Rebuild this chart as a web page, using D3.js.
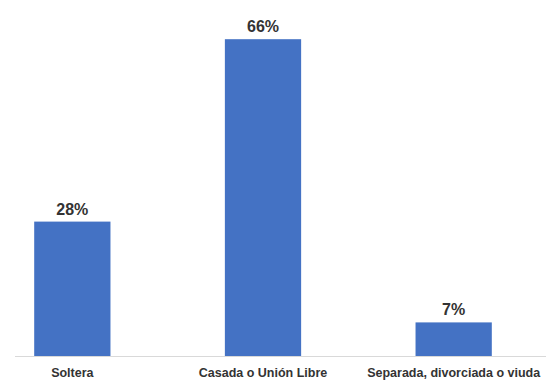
<!DOCTYPE html>
<html><head><meta charset="utf-8">
<script src="https://cdn.jsdelivr.net/npm/d3@7"></script>
<style>body{margin:0;background:#fff;}svg{display:block;}</style>
</head><body>
<script>
const categories = ["Soltera", "Casada o Unión Libre", "Separada, divorciada o viuda"];
const values = [28, 66, 7];
const valueLabels = ["28%", "66%", "7%"];

const W = 546, H = 380;
const svg = d3.select("body").append("svg").attr("width", W).attr("height", H);

const x = d3.scaleBand().domain(categories).range([-23, 549]).paddingInner(0.6).paddingOuter(0.3);
const y = d3.scaleLinear().domain([0, 70]).range([356, 20]);

svg.append("line").attr("x1", 15).attr("x2", W).attr("y1", y(0) + 0.5).attr("y2", y(0) + 0.5)
  .attr("stroke", "#d9d9d9").attr("stroke-width", 1);

svg.selectAll("rect.bar").data(values).join("rect").attr("class", "bar")
  .attr("x", (d, i) => x(categories[i]))
  .attr("width", x.bandwidth())
  .attr("y", d => y(d))
  .attr("height", d => y(0) - y(d))
  .attr("fill", "#4472C4");

svg.selectAll("text.val").data(values).join("text").attr("class", "val")
  .attr("x", (d, i) => x(categories[i]) + x.bandwidth() / 2)
  .attr("y", d => y(d) - 7)
  .attr("text-anchor", "middle")
  .attr("font-family", "Liberation Sans, Arial, sans-serif")
  .attr("font-weight", "bold").attr("font-size", 16).attr("fill", "#333")
  .text((d, i) => valueLabels[i]);

svg.selectAll("text.cat").data(categories).join("text").attr("class", "cat")
  .attr("x", d => x(d) + x.bandwidth() / 2)
  .attr("y", 377)
  .attr("text-anchor", "middle")
  .attr("font-family", "Liberation Sans, Arial, sans-serif")
  .attr("font-weight", "bold").attr("font-size", 12.5).attr("fill", "#333")
  .text(d => d);
</script>
</body></html>
